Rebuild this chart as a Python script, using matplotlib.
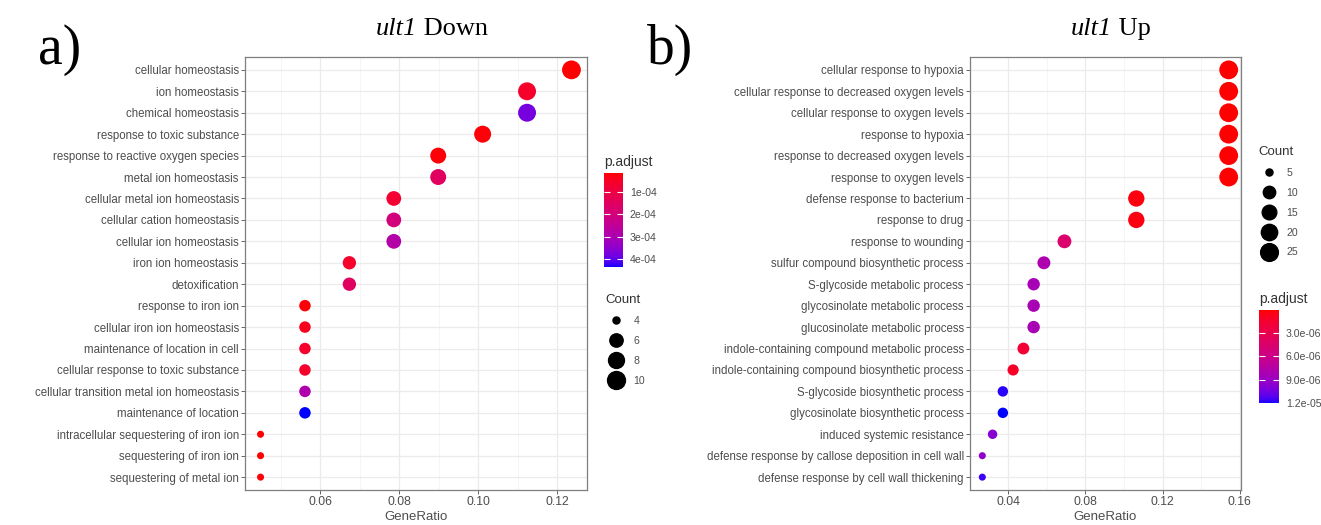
import numpy as np
import matplotlib
matplotlib.use('Agg')
import matplotlib.pyplot as plt
from matplotlib.colors import ListedColormap, Normalize
from matplotlib.lines import Line2D
from matplotlib.ticker import MultipleLocator

plt.rcParams['font.family'] = ['Liberation Sans', 'DejaVu Sans']

# ---- data: ult1 Down ----
down_terms = ['cellular homeostasis', 'ion homeostasis', 'chemical homeostasis',
              'response to toxic substance', 'response to reactive oxygen species',
              'metal ion homeostasis', 'cellular metal ion homeostasis',
              'cellular cation homeostasis', 'cellular ion homeostasis',
              'iron ion homeostasis', 'detoxification', 'response to iron ion',
              'cellular iron ion homeostasis', 'maintenance of location in cell',
              'cellular response to toxic substance',
              'cellular transition metal ion homeostasis', 'maintenance of location',
              'intracellular sequestering of iron ion', 'sequestering of iron ion',
              'sequestering of metal ion']
down_count = [11, 10, 10, 9, 8, 8, 7, 7, 7, 6, 6, 5, 5, 5, 5, 5, 5, 4, 4, 4]
down_total = 89
down_padj = [1.5e-5, 6e-5, 3.8e-4, 2e-5, 2e-5, 1.5e-4, 7e-5, 2.0e-4, 2.8e-4, 6e-5,
             1.5e-4, 2e-5, 4e-5, 6e-5, 6e-5, 2.9e-4, 4.36e-4, 1.5e-5, 1.5e-5, 2e-5]

# ---- data: ult1 Up ----
up_terms = ['cellular response to hypoxia', 'cellular response to decreased oxygen levels',
            'cellular response to oxygen levels', 'response to hypoxia',
            'response to decreased oxygen levels', 'response to oxygen levels',
            'defense response to bacterium', 'response to drug', 'response to wounding',
            'sulfur compound biosynthetic process', 'S-glycoside metabolic process',
            'glycosinolate metabolic process', 'glucosinolate metabolic process',
            'indole-containing compound metabolic process',
            'indole-containing compound biosynthetic process',
            'S-glycoside biosynthetic process', 'glycosinolate biosynthetic process',
            'induced systemic resistance',
            'defense response by callose deposition in cell wall',
            'defense response by cell wall thickening']
up_count = [29, 29, 29, 29, 29, 29, 20, 20, 13, 11, 10, 10, 10, 9, 8, 7, 7, 6, 5, 5]
up_total = 188
up_padj = [1e-7, 1e-7, 1e-7, 1e-7, 1.2e-7, 1.5e-7, 4e-7, 5e-7, 4.5e-6, 8e-6, 8.3e-6,
           8.3e-6, 8.3e-6, 1.8e-6, 1.2e-6, 1.18e-5, 1.2e-5, 9.8e-6, 9.5e-6, 1.16e-5]


# red -> blue gradient interpolated in CIELAB (like ggplot2)
M = np.array([[0.4124564, 0.3575761, 0.1804375],
              [0.2126729, 0.7151522, 0.0721750],
              [0.0193339, 0.1191920, 0.9503041]])
WHITE = np.array([0.95047, 1.0, 1.08883])
D = 6 / 29


def to_lab(rgb):
    c = np.array(rgb, float)
    lin = np.where(c <= 0.04045, c / 12.92, ((c + 0.055) / 1.055) ** 2.4)
    xyz = M @ lin / WHITE
    f = np.where(xyz > D ** 3, np.cbrt(xyz), xyz / (3 * D ** 2) + 4 / 29)
    return np.array([116 * f[1] - 16, 500 * (f[0] - f[1]), 200 * (f[1] - f[2])])


def from_lab(lab):
    L, a, b = lab
    fy = (L + 16) / 116
    f = np.array([fy + a / 500, fy, fy - b / 200])
    xyz = np.where(f > D, f ** 3, 3 * D ** 2 * (f - 4 / 29)) * WHITE
    lin = np.clip(np.linalg.solve(M, xyz), 0, 1)
    c = np.where(lin <= 0.0031308, 12.92 * lin, 1.055 * lin ** (1 / 2.4) - 0.055)
    return np.clip(c, 0, 1)


lab_red, lab_blue = to_lab([1, 0, 0]), to_lab([0, 0, 1])
cmap = ListedColormap([from_lab(lab_red + t * (lab_blue - lab_red)) for t in np.linspace(0, 1, 256)])


def dot_size(c, cmin, cmax):
    # ggplot scale_size(range=c(3, 8)), area scaling -> diameter in points
    d_px = 2.35 * (3 + 5 * np.sqrt((np.asarray(c, float) - cmin) / (cmax - cmin)))
    return d_px * 0.72


def dot_panel(ax, cax, terms, counts, padj, total, vmin, vmax, cticks, clabels,
              size_breaks, leg_xy):
    ratio = np.array(counts) / total
    y = np.arange(len(terms))[::-1]
    cmin, cmax = min(counts), max(counts)
    norm = Normalize(vmin, vmax)
    sc = ax.scatter(ratio, y, s=dot_size(counts, cmin, cmax) ** 2, c=padj, cmap=cmap,
                    norm=norm, edgecolors='none', zorder=3)
    ax.set_yticks(y)
    ax.set_yticklabels(terms)
    ax.set_ylim(-0.6, len(terms) - 0.4)
    ax.set_xlabel('GeneRatio', fontsize=9.5, color='#4D4D4D', labelpad=2)
    ax.grid(which='major', color='#EBEBEB', lw=0.9, zorder=0)
    ax.grid(which='minor', axis='x', color='#F4F4F4', lw=0.6, zorder=0)
    ax.set_axisbelow(True)
    for s in ax.spines.values():
        s.set_color('#7F7F7F')
        s.set_linewidth(0.9)
    ax.tick_params(axis='both', length=3, width=0.7, color='#666666',
                   labelcolor='#4D4D4D', pad=1.5)
    ax.tick_params(axis='y', labelsize=8.3)
    ax.tick_params(axis='x', labelsize=8.8)
    ax.tick_params(which='minor', length=0)

    cb = plt.colorbar(sc, cax=cax)
    cb.outline.set_visible(False)
    cax.invert_yaxis()
    cb.set_ticks(cticks)
    cb.set_ticklabels(clabels)
    cax.tick_params(direction='in', length=4, width=0.8, color='white', left=True,
                    right=True, labelsize=7.6, labelcolor='#4D4D4D', pad=5)
    cax.set_title('p.adjust', loc='left', fontsize=10, color='#333333', pad=5)

    handles = [Line2D([], [], ls='none', marker='o', color='black',
                      markersize=dot_size(b, cmin, cmax)) for b in size_breaks]
    leg = ax.figure.legend(handles, [str(b) for b in size_breaks], title='Count',
                           loc='upper left', bbox_to_anchor=leg_xy, frameon=False,
                           borderpad=0, handlelength=2.1, handletextpad=0.55,
                           labelspacing=0.93, fontsize=7.6, title_fontsize=9.5,
                           alignment='left', labelcolor='#4D4D4D')
    leg.get_title().set_color('#333333')


def title(x, italic, rest):
    t = fig.text(x, 1 - 40 / H, italic, ha='right', va='bottom', fontsize=19,
                 family='Liberation Serif', style='italic')
    plt.annotate(' ' + rest, xy=(1, 0), xycoords=t, ha='left', va='bottom',
                 fontsize=19, family='Liberation Serif', annotation_clip=False)


W, H = 1321, 525
fig = plt.figure(figsize=(W / 100, H / 100), dpi=100)

ax1 = fig.add_axes([245 / W, 1 - 490 / H, 342 / W, 433 / H])
cax1 = fig.add_axes([604 / W, 1 - 267 / H, 19 / W, 94 / H])
ax1.xaxis.set_major_locator(MultipleLocator(0.02))
ax1.xaxis.set_minor_locator(MultipleLocator(0.01))
ax1.xaxis.set_major_formatter(lambda v, p: f'{v:.2f}')
dot_panel(ax1, cax1, down_terms, down_count, down_padj, down_total, 1.5e-5, 4.36e-4,
          [1e-4, 2e-4, 3e-4, 4e-4], ['1e-04', '2e-04', '3e-04', '4e-04'],
          [4, 6, 8, 10], (600 / W, 1 - 289 / H))

ax2 = fig.add_axes([970 / W, 1 - 490 / H, 271 / W, 433 / H])
cax2 = fig.add_axes([1259 / W, 1 - 403 / H, 20 / W, 93 / H])
ax2.xaxis.set_major_locator(MultipleLocator(0.04))
ax2.xaxis.set_minor_locator(MultipleLocator(0.02))
ax2.xaxis.set_major_formatter(lambda v, p: f'{v:.2f}')
dot_panel(ax2, cax2, up_terms, up_count, up_padj, up_total, 1e-7, 1.2e-5,
          [3e-6, 6e-6, 9e-6, 1.2e-5], ['3.0e-06', '6.0e-06', '9.0e-06', '1.2e-05'],
          [5, 10, 15, 20, 25], (1253 / W, 1 - 141 / H))

title(417 / W, 'ult1', 'Down')
title(1112 / W, 'ult1', 'Up')
fig.text(38 / W, 1 - 64 / H, 'a)', ha='left', va='baseline', fontsize=40,
         family='Liberation Serif')
fig.text(647 / W, 1 - 64 / H, 'b)', ha='left', va='baseline', fontsize=40,
         family='Liberation Serif')

fig.savefig('out.png', dpi=100, facecolor='white')
